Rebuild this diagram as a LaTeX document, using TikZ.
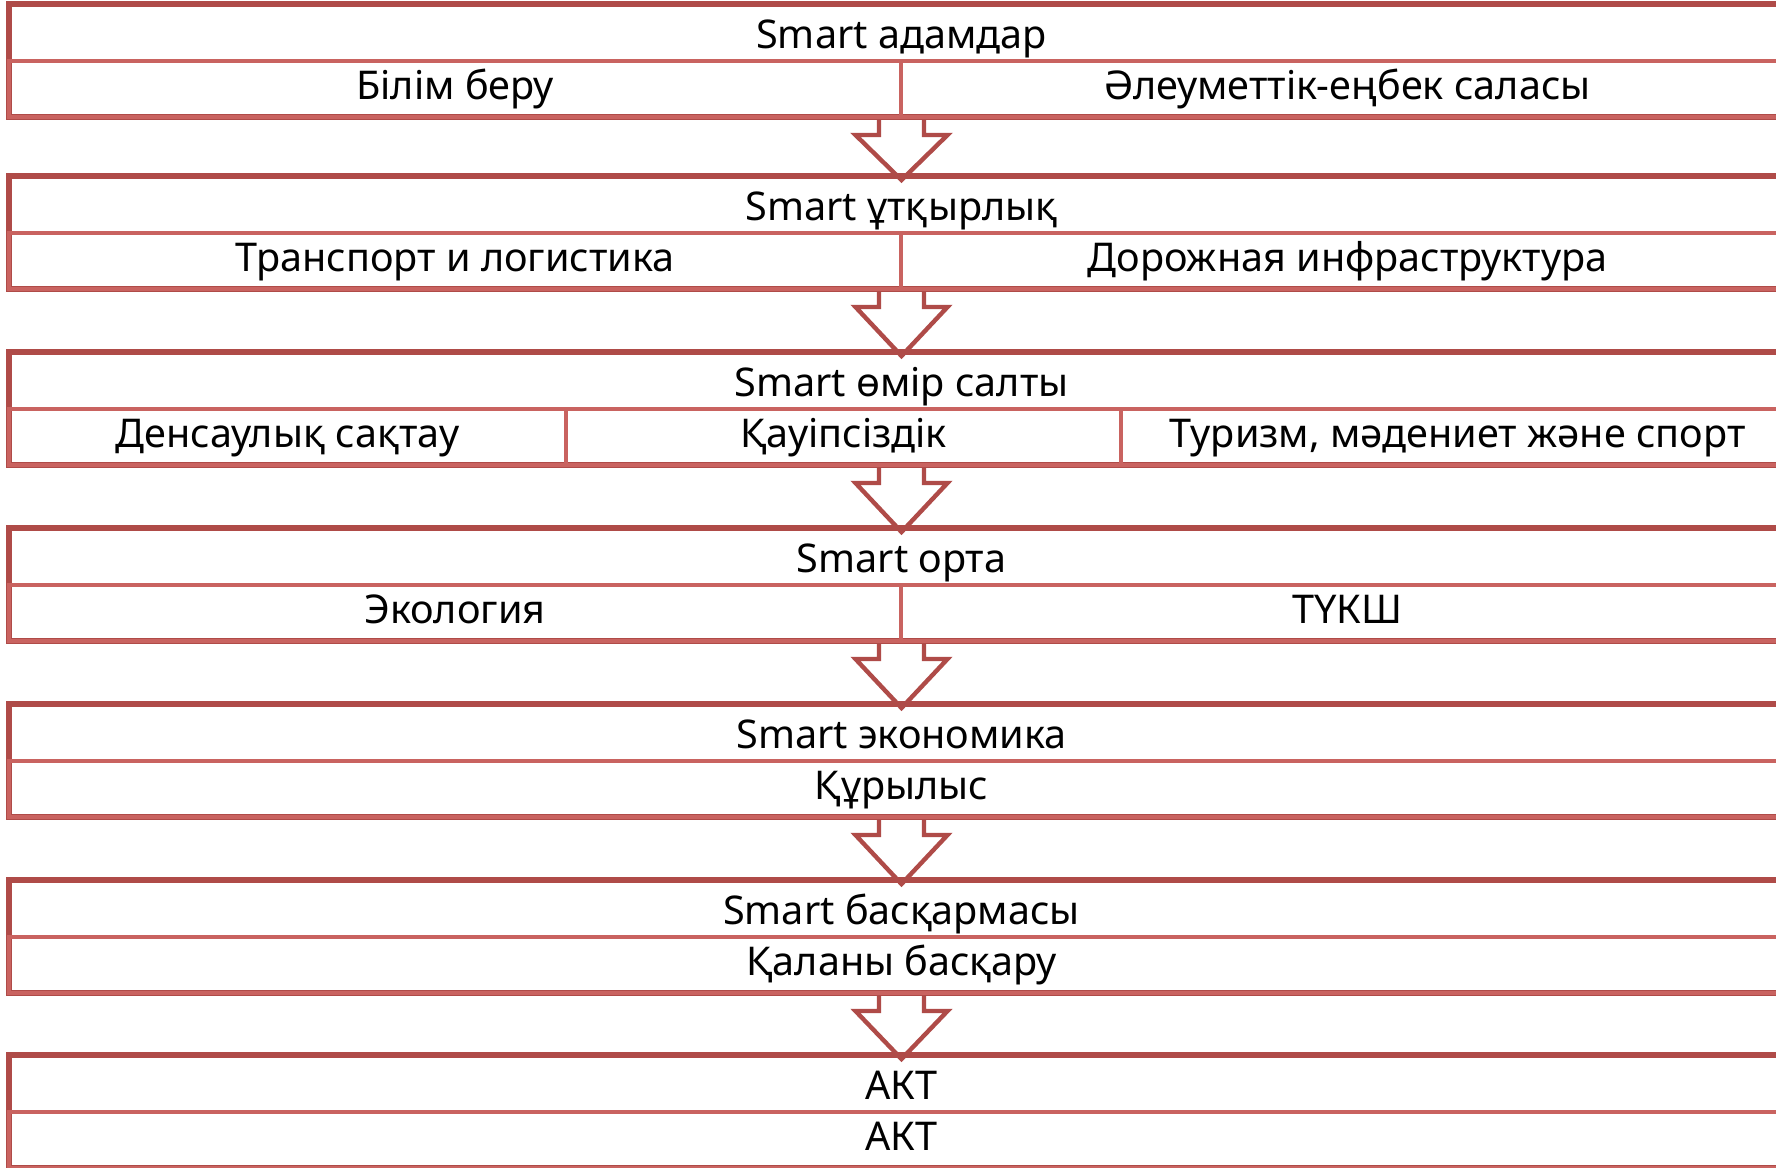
\documentclass[tikz,border=0pt]{standalone}
\usepackage{fontspec}
\setmainfont{Noto Sans}
\usetikzlibrary{calc,backgrounds}
\definecolor{boxdark}{RGB}{175,75,72}
\definecolor{boxlight}{RGB}{201,99,96}
\tikzset{
  outerbox/.style={draw=boxdark, line width=2.8pt, minimum width=892.5pt,
    minimum height=56.5pt, inner sep=0pt, outer sep=0pt},
  cellbox/.style={draw=boxlight, line width=2.2pt, minimum height=28pt,
    inner sep=0pt, outer sep=0pt, anchor=south, labeltext,
    text height=2.15ex, text depth=.2ex},
  labeltext/.style={font=\fontsize{19.8}{23}\selectfont, text height=1.45ex, text depth=.3ex},
  downarrow/.style={draw=boxdark, line width=2.2pt, fill=white, line join=miter}
}
\begin{document}
\begin{tikzpicture}[x=0.5pt,y=-0.5pt]
  \useasboundingbox (0,0) rectangle (1776,1167);
  \clip (0,0) rectangle (1776,1167);
  \def \Blocks{
    1/4/Smart адамдар,
    2/176/Smart ұтқырлық,
    3/352/Smart өмір салты,
    4/528/Smart орта,
    5/704/Smart экономика,
    6/880/Smart басқармасы,
    7/1055/АКТ}
  \def \Cells{
    1/9/901/Білім беру,
    1/901/1794/Әлеуметтік-еңбек саласы,
    2/9/901/Транспорт и логистика,
    2/901/1794/Дорожная инфраструктура,
    3/9/566/Денсаулық сақтау,
    3/566/1121/Қауіпсіздік,
    3/1121/1794/{Туризм, мәдениет және спорт},
    4/9/901/Экология,
    4/901/1794/ТҮКШ,
    5/9/1794/Құрылыс,
    6/9/1794/Қаланы басқару,
    7/9/1794/АКТ}
  \foreach \id / \ytop / \name in \Blocks{
    \node[outerbox] (b\id) at (901.5, \ytop+56.5) {};
    \node[labeltext] (t\id) at ($(b\id.north)+(0,38)$) {\name};
  }
  \foreach \id / \xl / \xr / \name in \Cells{
    \pgfmathsetmacro{\xc}{(\xl+\xr)/2}
    \pgfmathsetmacro{\cellw}{(\xr-\xl)/2}
    \node[cellbox, minimum width=\cellw pt] (c\id-\xl) at (\xc, 0 |- b\id.south) {\name};
  }
  % arrows between the blocks
  \begin{scope}[on background layer]
    \foreach \x / \y in {1/2, 2/3, 3/4, 4/5, 5/6, 6/7}{
      \draw[downarrow] ($(b\x.south)+(-22.5,0)$) -- ++(0,18) -- ++(-23.5,0)
        -- ($(b\y.north)+(0,4)$) -- ($(b\x.south)+(46,18)$) -- ++(-23.5,0)
        -- ++(0,-18) -- cycle;
    }
  \end{scope}
\end{tikzpicture}
\end{document}
